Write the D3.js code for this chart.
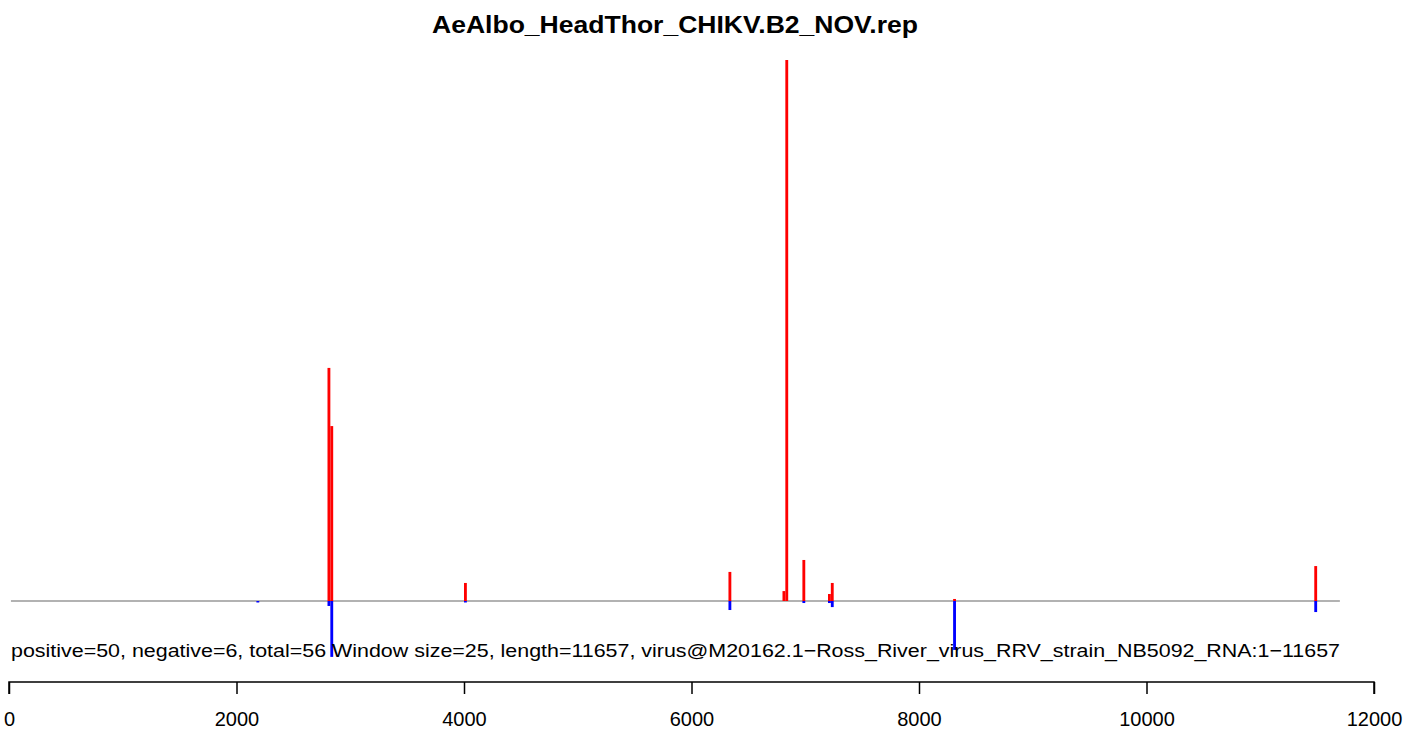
<!DOCTYPE html>
<html>
<head>
<meta charset="utf-8">
<script src="https://cdn.jsdelivr.net/npm/d3@7"></script>
<style>
  html, body { margin: 0; padding: 0; background: #fff; }
  text { font-family: "Liberation Sans", Arial, sans-serif; }
</style>
</head>
<body>
<svg id="chart" width="1406" height="729"></svg>
<script>
// ---- data ----
const title = "AeAlbo_HeadThor_CHIKV.B2_NOV.rep";
const windowSize = 25;
const genomeLength = 11657;
const infoText = "positive=50, negative=6, total=56 Window size=25, length=11657, virus@M20162.1\u2212Ross_River_virus_RRV_strain_NB5092_RNA:1\u221211657";
// window start positions
const positions = [2175, 2800, 2825, 4000, 6325, 6800, 6825, 6975, 7200, 7225, 8300, 11475];
// positive-strand values (red, above the line)
const positiveValues = [0, 10.34, 7.76, 0.80, 1.29, 0.44, 24.0, 1.82, 0.31, 0.80, 0.09, 1.55];
// negative-strand values (blue, below the line)
const negativeValues = [0.04, 0.22, 2.48, 0.04, 0.40, 0, 0, 0.09, 0.09, 0.27, 2.17, 0.49];
const xTicks = [0, 2000, 4000, 6000, 8000, 10000, 12000];

// ---- drawing ----
const svg = d3.select("#chart");
const x = d3.scaleLinear().domain([0, 12000]).range([9, 1374]);
const y = d3.scaleLinear().domain([0, 24]).range([601, 60]);

// title
svg.append("text")
  .attr("x", 675).attr("y", 33)
  .attr("text-anchor", "middle")
  .attr("font-weight", "bold")
  .attr("font-size", "23.3px")
  .attr("textLength", 486)
  .attr("lengthAdjust", "spacingAndGlyphs")
  .text(title);

// baseline
svg.append("line")
  .attr("x1", x(17)).attr("x2", x(11700))
  .attr("y1", y(0)).attr("y2", y(0))
  .attr("stroke", "#666").attr("stroke-width", 1.2);

const data = positions.map((p, i) => ({ pos: p, pv: positiveValues[i], nv: negativeValues[i] }));

// positive bars
svg.append("g").selectAll("rect")
  .data(data.filter(d => d.pv > 0))
  .join("rect")
  .attr("x", d => x(d.pos))
  .attr("width", d => x(d.pos + windowSize) - x(d.pos))
  .attr("y", d => y(d.pv))
  .attr("height", d => y(0) - y(d.pv))
  .attr("fill", "#ff0000");

// negative bars
svg.append("g").selectAll("rect")
  .data(data.filter(d => d.nv > 0))
  .join("rect")
  .attr("x", d => x(d.pos))
  .attr("width", d => x(d.pos + windowSize) - x(d.pos))
  .attr("y", y(0))
  .attr("height", d => Math.max(1.5, y(-d.nv) - y(0)))
  .attr("fill", "#0000ff");

// info text
svg.append("text")
  .attr("x", 11).attr("y", 657)
  .attr("font-size", "18.7px")
  .attr("textLength", 1329)
  .attr("lengthAdjust", "spacingAndGlyphs")
  .attr("fill", "#000")
  .text(infoText);

// x axis
const axis = d3.axisBottom(x).tickValues(xTicks).tickSize(12).tickPadding(18).tickFormat(d3.format("d"));
const gx = svg.append("g").attr("transform", "translate(0,682)").call(axis);
gx.select(".domain").attr("stroke", "#000").attr("stroke-width", 1.5).attr("d", `M${x(0)},12V0H${x(12000)}V12`);
gx.selectAll(".tick line").attr("stroke", "#000").attr("stroke-width", 1.5);
gx.selectAll(".tick text")
  .attr("font-family", "'Liberation Sans', Arial, sans-serif")
  .attr("font-size", "20px")
  .attr("fill", "#000");
</script>
</body>
</html>
